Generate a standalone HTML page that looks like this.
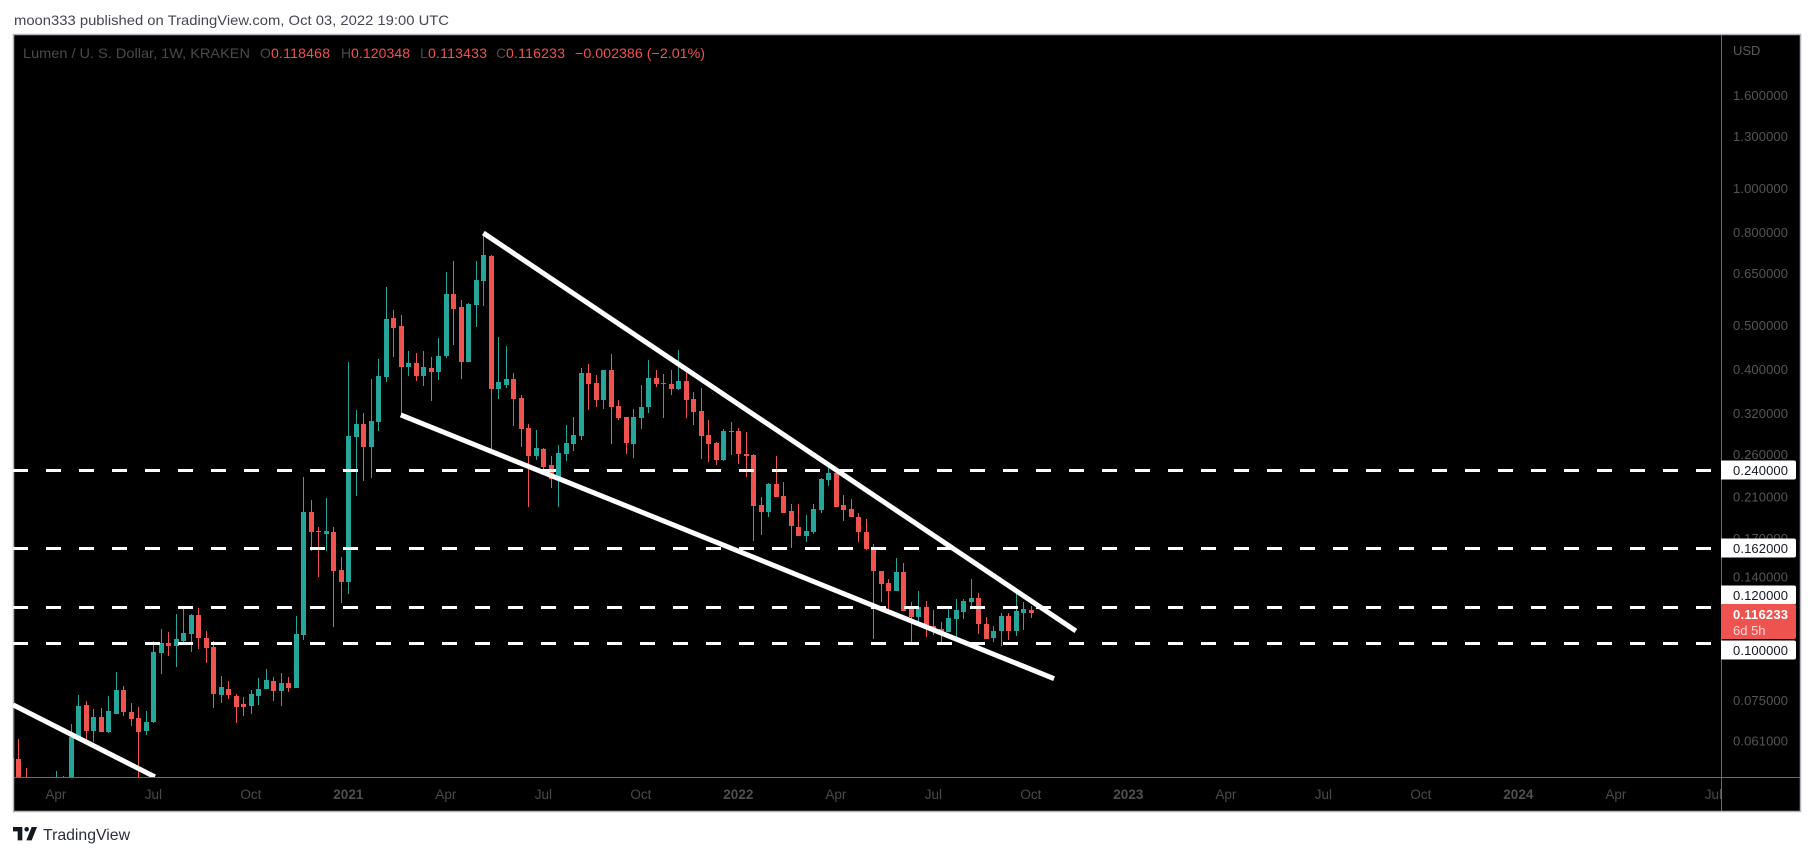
<!DOCTYPE html>
<html lang="en">
<head>
<meta charset="utf-8">
<title>Lumen / U. S. Dollar, 1W, KRAKEN</title>
<style>
html,body{margin:0;padding:0;background:#fff;width:1814px;height:856px;overflow:hidden}
svg{display:block;font-family:"Liberation Sans",sans-serif}
</style>
</head>
<body>
<svg id="chart" xmlns="http://www.w3.org/2000/svg" width="1814" height="856" viewBox="0 0 1814 856">
  <defs>
    <clipPath id="plot-clip"><rect x="13" y="35" width="1708" height="742"/></clipPath>
    <clipPath id="time-clip"><rect x="14" y="778" width="1707" height="33"/></clipPath>
    <clipPath id="price-clip"><rect x="1722" y="35" width="78" height="776"/></clipPath>
  </defs>
  <rect x="0" y="0" width="1814" height="856" fill="#ffffff"/>
  <text x="14" y="25" font-size="14" fill="#434651" textLength="435" lengthAdjust="spacingAndGlyphs">moon333 published on TradingView.com, Oct 03, 2022 19:00 UTC</text>
  <rect x="13.5" y="34.5" width="1787" height="777" fill="#000000" stroke="#b2b5be" stroke-width="1.5"/>
  <g id="candles" clip-path="url(#plot-clip)" shape-rendering="crispEdges"></g>
  <g id="levels" clip-path="url(#plot-clip)"></g>
  <g id="trends" clip-path="url(#plot-clip)"></g>
  <line x1="14" y1="777.5" x2="1800" y2="777.5" stroke="#6b6b6b" stroke-width="1"/>
  <line x1="1721.5" y1="35" x2="1721.5" y2="811" stroke="#6b6b6b" stroke-width="1"/>
  <g id="time-axis" clip-path="url(#time-clip)"></g>
  <g id="price-axis" clip-path="url(#price-clip)"></g>
  <g id="level-tags"></g>
  <text x="1733" y="55" font-size="13" fill="#5a5a5a">USD</text>
  <g font-size="14">
    <text x="23" y="58" fill="#4a4a4a" textLength="227" lengthAdjust="spacingAndGlyphs">Lumen / U. S. Dollar, 1W, KRAKEN</text>
    <text x="260" y="58" fill="#4a4a4a">O</text>
    <text x="271" y="58" fill="#ef5350" textLength="59">0.118468</text>
    <text x="341" y="58" fill="#4a4a4a">H</text>
    <text x="351" y="58" fill="#ef5350" textLength="59">0.120348</text>
    <text x="420" y="58" fill="#4a4a4a">L</text>
    <text x="428" y="58" fill="#ef5350" textLength="59">0.113433</text>
    <text x="496" y="58" fill="#4a4a4a">C</text>
    <text x="506" y="58" fill="#ef5350" textLength="59">0.116233</text>
    <text x="575" y="58" fill="#ef5350" textLength="130" lengthAdjust="spacingAndGlyphs">−0.002386 (−2.01%)</text>
  </g>
  <g transform="translate(13 827) scale(0.667 0.667)" fill="#131722">
    <path d="M14 0H0v6.5h7V20h7V0z"/>
    <circle cx="20.5" cy="3.4" r="3.4"/>
    <path d="M28 20h-8L28 0h8z"/>
  </g>
  <text x="43" y="840" font-size="16" fill="#2a2e39" textLength="87" lengthAdjust="spacingAndGlyphs">TradingView</text>
</svg>
<script>
const opens = [.07235,.0556,.0487,.0463,.0487,.0463,.0463,.0475,.0475,.06215,
.0731,.06406,.0688,.0637,.0698,.0788,.0705,.0684,.0641,.0671,
.0951,.1000,.0985,.1010,.1047,.1151,.1026,.0980,.0769,.0792,
.0765,.0735,.0727,.0765,.0792,.0825,.0784,.0817,.0796,.1041,
.1941,.1763,.1737,.1754,.1447,.1362,.2837,.3030,.2697,.3061,
.3844,.5181,.4976,.4044,.4126,.3860,.4023,.3942,.4275,.5845,
.5474,.4147,.5527,.6248,.7087,.3617,.3691,.3805,.3456,.2969,
.2577,.2670,.2463,.2317,.2603,.2739,.2852,.3923,.3729,.3421,
.3982,.3319,.3139,.2739,.3123,.3302,.3822,.3710,.3710,.3617,
.3766,.3438,.3236,.2866,.2752,.2525,.2924,.2924,.2603,.2590,
.2009,.1941,.2237,.2105,.1951,.1799,.1719,.1754,.1960,.2282,
.2365,.2009,.1970,.1892,.1754,.1601,.1440,.1355,.1301,.1433,
.1194,.1140,.1200,.1090,.1073,.1057,.1129,.1170,.1231,.1256,
.1101,.1026,.1063,.1146,.1063,.1164,.118468];
const highs = [.07688,.0615,.0531,.0492,.0500,.0492,.0523,.0510,.06638,.07688,
.0746,.0716,.0719,.0765,.0864,.0805,.0738,.0723,.0709,.1010,
.1073,.1057,.1158,.1188,.1158,.1194,.1063,.1010,.0846,.0825,
.0773,.0761,.0788,.0838,.0876,.0842,.0859,.0842,.1146,.2317,
.2062,.1799,.2083,.1799,.1546,.4147,.3252,.3204,.3805,.4210,
.6062,.5394,.5261,.4383,.4340,.4383,.4253,.4680,.6539,.6912,
.5674,.5586,.6912,.7880,.7122,.4704,.4497,.3923,.3510,.3030,
.2939,.2683,.2577,.2725,.3015,.3139,.4023,.4105,.3883,.3982,
.4319,.3421,.3139,.3268,.3691,.4188,.3982,.3903,.3982,.4406,
.3982,.3563,.3636,.3091,.2766,.2954,.3061,.2969,.2910,.2603,
.2094,.2248,.2577,.2259,.2021,.2021,.1912,.2021,.2305,.2425,
.2365,.2116,.2073,.1931,.1873,.1651,.1440,.1383,.1538,.1498,
.1231,.1301,.1237,.1182,.1112,.1188,.1250,.1250,.1383,.1288,
.1141,.1090,.1164,.1164,.1288,.1231,.120348];
const lows = [.0475,.0452,.0452,.0441,.0452,.0452,.0452,.0463,.0463,.0618,
.0612,.0606,.0637,.0634,.0698,.0691,.0657,.0475,.0628,.0667,
.0855,.0936,.0885,.0995,.0956,.0970,.0904,.0719,.0738,.0753,
.0667,.0691,.0698,.0731,.0792,.0746,.0727,.0780,.0796,.1015,
.1593,.1397,.1593,.1084,.1224,.1281,.2105,.2270,.2305,.2924,
.3747,.4253,.3172,.3860,.3766,.3671,.3403,.3785,.4232,.4520,
.3805,.4147,.4951,.5505,.2656,.3438,.3636,.3000,.2697,.1989,
.2525,.2400,.2192,.1989,.2512,.2642,.2794,.3252,.3302,.3268,
.2739,.3091,.2603,.2551,.2954,.3204,.3654,.3123,.3510,.3598,
.3123,.3015,.2538,.2499,.2463,.2512,.2590,.2475,.2317,.1675,
.1728,.1892,.2094,.1931,.1618,.1719,.1667,.1737,.1931,.2214,
.1989,.1854,.1892,.1667,.1601,.1020,.1231,.1182,.1301,.1176,
.1000,.1107,.1031,.1041,.0990,.1057,.1031,.1129,.1206,.1047,
.1020,.1005,.0985,.1015,.1036,.1068,.113433];
const closes = [.05588,.0475,.0463,.0487,.0463,.0480,.0487,.0487,.06215,.07272,
.06406,.06878,.0637,.0709,.0788,.0705,.0681,.0637,.0671,.0956,
.1000,.0985,.1020,.1052,.1151,.1026,.0975,.0773,.0801,.0769,
.0723,.0723,.0773,.0792,.0829,.0784,.0817,.0796,.1047,.1941,
.1754,.1754,.1763,.1440,.1362,.2852,.3030,.2697,.3076,.3860,
.5155,.4925,.4044,.4126,.3860,.4044,.3942,.4275,.5845,.5421,
.4147,.5556,.6279,.7122,.3617,.3748,.3805,.3438,.2954,.2577,
.2683,.2436,.2294,.2616,.2752,.2866,.3923,.3710,.3421,.3982,
.3302,.3123,.2752,.3139,.3302,.3822,.3710,.3729,.3617,.3766,
.3421,.3220,.2852,.2739,.2525,.2924,.2910,.2603,.2577,.2001,
.1941,.2237,.2094,.1931,.1808,.1719,.1763,.1970,.2294,.2365,
.1989,.1960,.1892,.1754,.1609,.1440,.1347,.1301,.1433,.1176,
.1140,.1200,.1090,.1068,.1057,.1135,.1182,.1237,.1256,.1101,
.1020,.1063,.1146,.1063,.1176,.1188,.116233];
const priceTicks = [1.6,1.3,1.0,0.8,0.65,0.5,0.4,0.32,0.26,0.21,0.17,0.14,0.075,0.061];
const priceTickLabels = ["1.600000","1.300000","1.000000","0.800000","0.650000","0.500000","0.400000","0.320000","0.260000","0.210000","0.170000","0.140000","0.075000","0.061000"];
const levelPrices = [0.24,0.162,0.12,0.1];
const levelLabels = ["0.240000","0.162000","0.120000","0.100000"];
const timeTickWeeks = [6,19,32,45,58,71,84,97,110,123,136,149,162,175,188,201,214,227];
const timeTickLabels = ["Apr","Jul","Oct","2021","Apr","Jul","Oct","2022","Apr","Jul","Oct","2023","Apr","Jul","Oct","2024","Apr","Jul"];
const trendStartWeeks = [63,52,0.3];
const trendStartPrices = [0.7964,0.3172,0.0731];
const trendEndWeeks = [142,139.1,19.2];
const trendEndPrices = [0.1063,0.0835,0.0508];
const lastPrice = 0.116233;

const NS = "http://www.w3.org/2000/svg";
const UP = "#26a69a", DOWN = "#ef5350";
function xOf(week){ return 10.83 + 7.5 * week; }
function yOf(price){ return 643 - 197.6 * Math.log(price / 0.1); }
function make(tag, attrs, parent){
  const el = document.createElementNS(NS, tag);
  for (const k in attrs) el.setAttribute(k, attrs[k]);
  parent.appendChild(el);
  return el;
}

const candlesG = document.getElementById("candles");
opens.forEach(function(o, i){
  const c = closes[i], color = c >= o ? UP : DOWN;
  const px = Math.round(xOf(i));
  const g = make("g", {fill: color}, candlesG);
  
  
  const hy = Math.round(yOf(highs[i])), ly = Math.round(yOf(lows[i]));
  const wick = make("rect", {x: px, y: hy, width: 1, height: Math.max(1, ly - hy)}, g);
  
  
  const ty = Math.round(yOf(Math.max(o, c))), by = Math.round(yOf(Math.min(o, c)));
  const body = make("rect", {x: px - 2, y: ty, width: 5, height: Math.max(1, by - ty)}, g);
  
  
});

const levelsG = document.getElementById("levels");
levelPrices.forEach(function(p){
  const y = Math.round(yOf(p)) + 0.5;
  const line = make("line", {x1: 13, x2: 1721, y1: y, y2: y, stroke: "#ffffff", "stroke-width": 3, "stroke-dasharray": "15 18"}, levelsG);
  
  
});

const trendsG = document.getElementById("trends");
trendStartWeeks.forEach(function(w, i){
  const line = make("line", {x1: xOf(w), y1: yOf(trendStartPrices[i]), x2: xOf(trendEndWeeks[i]), y2: yOf(trendEndPrices[i]), stroke: "#ffffff", "stroke-width": 5}, trendsG);
  
  
});

const timeG = document.getElementById("time-axis");
timeTickWeeks.forEach(function(w, i){
  const label = timeTickLabels[i];
  const bold = /^\d/.test(label);
  const t = make("text", {x: xOf(w), y: 799, "text-anchor": "middle", "font-size": 13.5, fill: bold ? "#4f4f4f" : "#4a4a4a", "font-weight": bold ? "700" : "400"}, timeG);
  
  
  t.textContent = label;
});

const priceG = document.getElementById("price-axis");
priceTicks.forEach(function(p, i){
  const t = make("text", {x: 1733, y: yOf(p) + 5, "font-size": 13, fill: "#555555", textLength: 55}, priceG);
  
  
  t.textContent = priceTickLabels[i];
});

const tagsG = document.getElementById("level-tags");
const tagOffsets = [0,0,-12,7];
levelPrices.forEach(function(p, i){
  const cy = Math.round(yOf(p)) + tagOffsets[i];
  const box = make("path", {d: "M1721 " + (cy - 9.5) + "H1794a2 2 0 0 1 2 2V" + (cy + 7.5) + "a2 2 0 0 1 -2 2H1721Z", fill: "#ffffff"}, tagsG);
  
  
  const t = make("text", {x: 1733, y: cy + 5, "font-size": 13, fill: "#131722", textLength: 55}, tagsG);
  
  
  t.textContent = levelLabels[i];
});

const lastBox = make("path", {d: "M1721 604H1794a2 2 0 0 1 2 2V637a2 2 0 0 1 -2 2H1721Z", fill: DOWN}, tagsG);


const lastText = make("text", {x: 1733, y: 619, "font-size": 13, "font-weight": "700", fill: "#ffffff", textLength: 55}, tagsG);


lastText.textContent = lastPrice.toFixed(6);
const countdown = make("text", {x: 1733, y: 635, "font-size": 13, fill: "#fcd5d5"}, tagsG);


countdown.textContent = "6d 5h";
</script>
</body>
</html>
